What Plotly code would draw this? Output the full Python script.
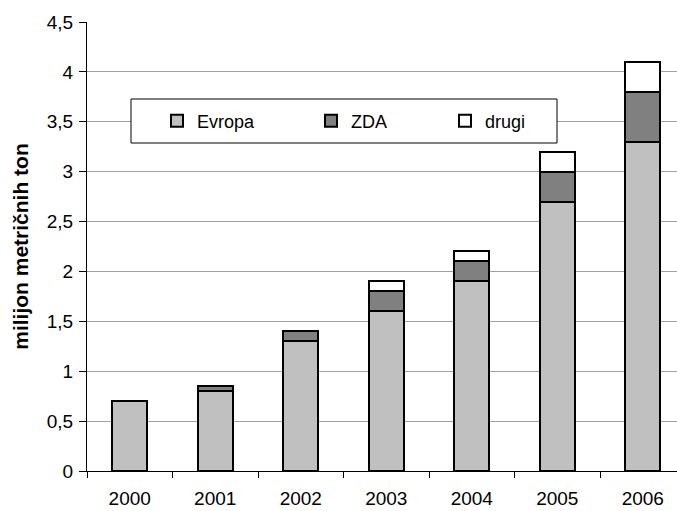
import plotly.graph_objects as go

years = ["2000", "2001", "2002", "2003", "2004", "2005", "2006"]
evropa = [0.7, 0.8, 1.3, 1.6, 1.9, 2.7, 3.3]
zda = [0.0, 0.05, 0.1, 0.2, 0.2, 0.3, 0.5]
drugi = [0.0, 0.0, 0.0, 0.1, 0.1, 0.2, 0.3]
y_ticks = [0, 0.5, 1, 1.5, 2, 2.5, 3, 3.5, 4, 4.5]
y_labels = ["0", "0,5", "1", "1,5", "2", "2,5", "3", "3,5", "4", "4,5"]

series = [("Evropa", evropa, "#c0c0c0"), ("ZDA", zda, "#808080"), ("drugi", drugi, "#ffffff")]

FONT = "'Liberation Sans', Arial, sans-serif"

# plot area in pixels: x 87..677, y 22..471
PX_L, PX_R, PX_T, PX_B = 87, 677, 22, 471


def px_x(p):
    return (p - PX_L) / (PX_R - PX_L)


def px_y(p):
    return (PX_B - p) / (PX_B - PX_T)


legend_ids = ["legend", "legend2", "legend3"]
legend_square_centres = [178, 332, 466]

fig = go.Figure()
for (name, vals, col), lid in zip(series, legend_ids):
    fig.add_trace(go.Bar(
        x=years, y=vals, name=name, legend=lid,
        marker=dict(color=col, line=dict(color="#000000", width=2)),
    ))

legend_common = dict(
    orientation="h", xanchor="left", yanchor="middle",
    borderwidth=0, bgcolor="rgba(0,0,0,0)",
    font=dict(family=FONT, size=18, color="#000000"),
)
legend_layout = {}
for lid, cx in zip(legend_ids, legend_square_centres):
    legend_layout[lid] = dict(legend_common, x=px_x(cx - 21), y=px_y(121))

fig.update_layout(
    barmode="stack",
    bargap=0.59,
    width=677, height=511,
    margin=dict(l=PX_L, r=0, t=PX_T, b=511 - PX_B, autoexpand=False),
    paper_bgcolor="white", plot_bgcolor="white",
    font=dict(family=FONT, size=19, color="#000000"),
    showlegend=True,
    shapes=[dict(
        type="rect", xref="paper", yref="paper", layer="above",
        x0=px_x(131), x1=px_x(557), y0=px_y(143), y1=px_y(99),
        line=dict(color="#000000", width=1), fillcolor="white",
    )],
    xaxis=dict(
        type="category",
        range=[-0.5, 6.40],
        showline=True, linecolor="#000000", linewidth=1,
        ticks="outside", tickson="boundaries", ticklen=6, tickcolor="#000000",
        showgrid=False, automargin=False,
        ticklabelstandoff=10,
        tickfont=dict(family=FONT, size=19),
    ),
    yaxis=dict(
        range=[0, 4.5],
        tickvals=y_ticks, ticktext=y_labels,
        showline=True, linecolor="#000000", linewidth=1,
        ticks="outside", ticklen=7, tickcolor="#000000",
        showgrid=True, gridcolor="#a0a0a0", gridwidth=1,
        zeroline=False, automargin=False,
        ticklabelstandoff=2,
        tickfont=dict(family=FONT, size=19),
        title=dict(text="<b>milijon metričnih ton</b>", font=dict(family=FONT, size=21), standoff=12),
    ),
    **legend_layout,
)

fig.write_html(
    "out.html",
    config={"displayModeBar": False},
    post_script="document.body.style.margin='0';document.body.style.overflow='hidden';",
)
